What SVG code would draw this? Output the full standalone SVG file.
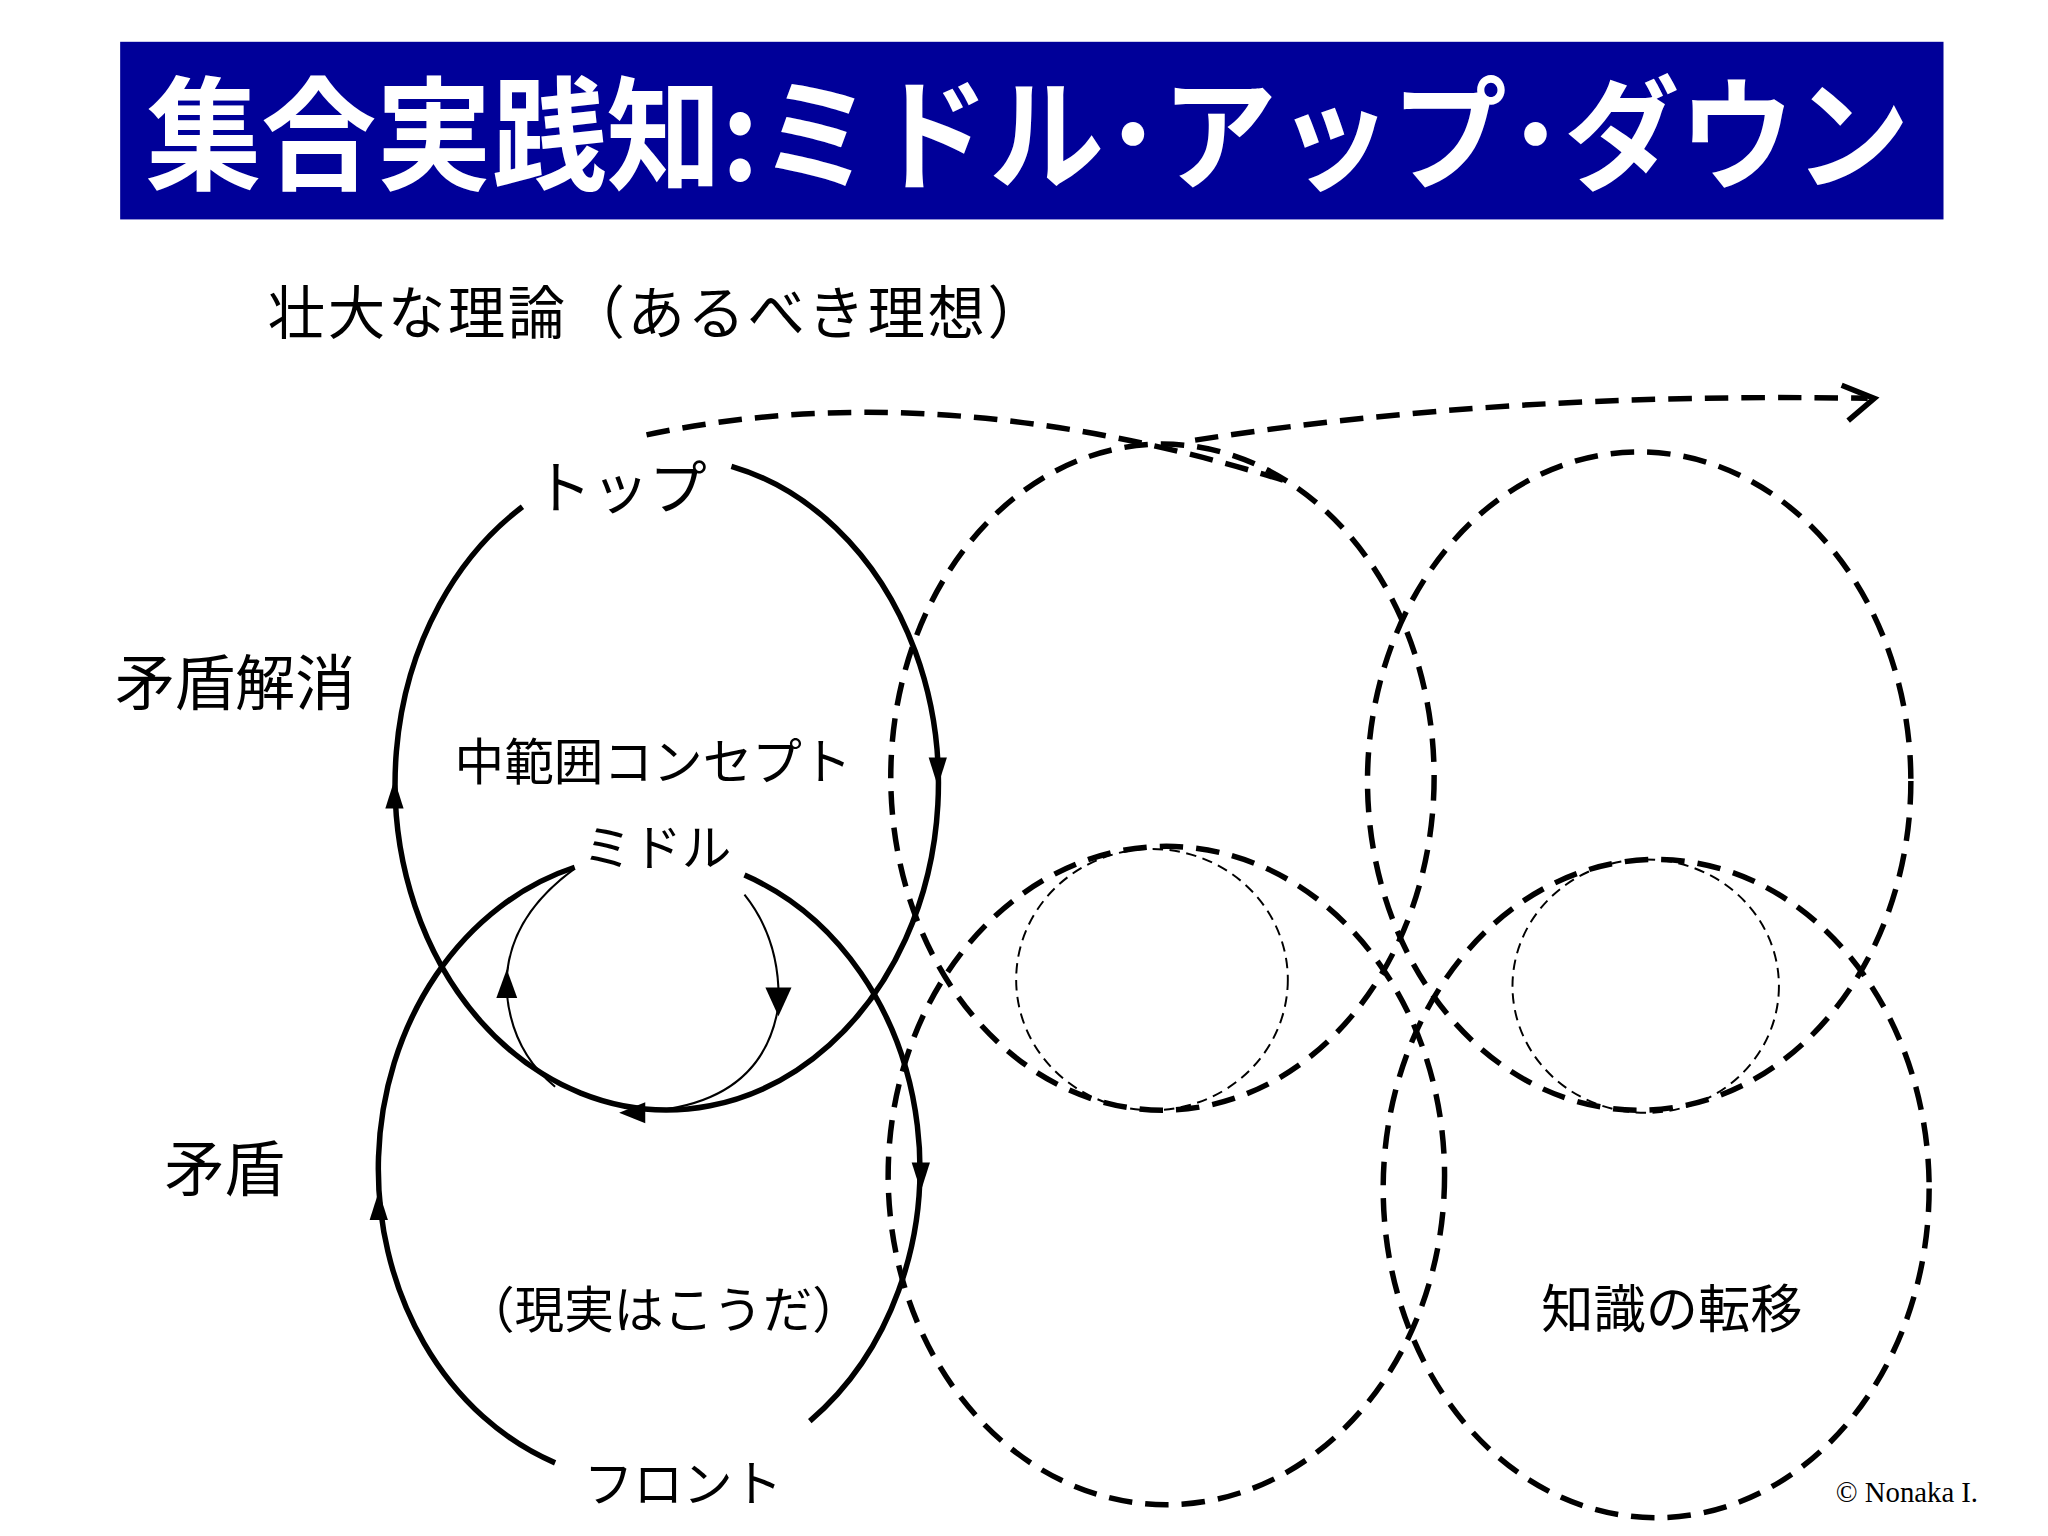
<svg xmlns="http://www.w3.org/2000/svg" width="2048" height="1536" viewBox="0 0 2048 1536">
<style>
.t{font-family:"Noto Sans CJK JP","Noto Sans",sans-serif;fill:#000}
.s{fill:none;stroke:#000;stroke-width:4.2}
.d{fill:none;stroke:#000;stroke-width:4.2;stroke-dasharray:18 10}
.th{fill:none;stroke:#000;stroke-width:1.6}
.td{fill:none;stroke:#000;stroke-width:1.5;stroke-dasharray:8 5}
.a{fill:#000}
</style>
<rect width="2048" height="1536" fill="#fff"/>
<g transform="scale(1.30612)">
<g id="title">
<rect x="92" y="32" width="1396" height="136" fill="#000099"/>
<text class="t" x="112" y="138" font-size="94" font-weight="bold" style="fill:#fff" textLength="1350" lengthAdjust="spacingAndGlyphs">集合実践知:ミドル･アップ･ダウン</text>
</g>
<g id="labels">
<text class="t" x="205" y="256" font-size="44" textLength="595" lengthAdjust="spacing">壮大な理論（あるべき理想）</text>
<text class="t" x="475" y="390" font-size="44" text-anchor="middle">トップ</text>
<text class="t" x="180" y="540" font-size="46" text-anchor="middle">矛盾解消</text>
<text class="t" x="500" y="597" font-size="38" text-anchor="middle">中範囲コンセプト</text>
<text class="t" x="503" y="663" font-size="38" text-anchor="middle">ミドル</text>
<text class="t" x="172" y="912" font-size="46" text-anchor="middle">矛盾</text>
<text class="t" x="508" y="1017" font-size="38" text-anchor="middle">（現実はこうだ）</text>
<text class="t" x="523" y="1150" font-size="38" text-anchor="middle">フロント</text>
<text class="t" x="1280" y="1017" font-size="40" text-anchor="middle">知識の転移</text>
<text x="1460" y="1150" font-size="22" text-anchor="middle" font-family="Liberation Serif,serif">© Nonaka I.</text>
</g>
<g id="connectors">
<path class="s" d="M400,388 A208,250 0 1,0 560,357"/>
<path class="s" d="M440,664 A207,240 0 0,0 425,1120"/>
<path class="s" d="M570,670 A207,240 0 0,1 620,1088"/>
<polygon class="a" points="302,597 295,619 309,619"/>
<polygon class="a" points="718,602 711,580 725,580"/>
<polygon class="a" points="474,852 494,844 494,860"/>
<polygon class="a" points="290,912 283,934 297,934"/>
<polygon class="a" points="705,912 698,890 712,890"/>
<path class="th" d="M440,665 Q385,705 388,760 Q392,805 425,832"/>
<path class="th" d="M570,685 Q598,720 596,770 Q585,840 505,850"/>
<polygon class="a" points="388,742 380,764 396,764"/>
<polygon class="a" points="596,778 586,756 606,756"/>
<path class="d" d="M495,333 Q720,285 990,370"/>
<path class="d" d="M915,337 Q1150,300 1430,305"/>
<polyline class="s" points="1410,295 1435,305 1415,322"/>
<ellipse class="d" cx="890" cy="595" rx="208" ry="255"/>
<ellipse class="d" cx="1255" cy="598" rx="208" ry="252"/>
<ellipse class="d" cx="893" cy="900" rx="213" ry="252"/>
<ellipse class="d" cx="1268" cy="910" rx="209" ry="252"/>
<ellipse class="td" cx="882" cy="750" rx="104" ry="100"/>
<ellipse class="td" cx="1260" cy="755" rx="102" ry="97"/>
</g>
</g>
</svg>
